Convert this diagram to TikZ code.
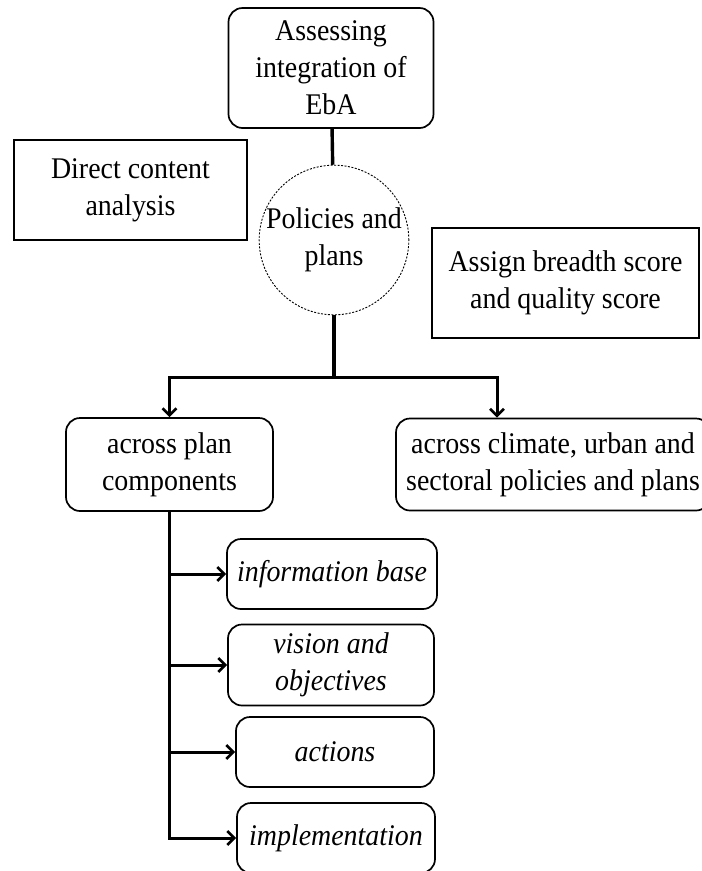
\documentclass[tikz,border=0pt]{standalone}
\usepackage{fontspec}
\setmainfont{Liberation Serif}[FakeStretch=0.93]
\usepackage{tikz}
\usetikzlibrary{arrows.meta}

\begin{document}
\begin{tikzpicture}[x=1pt, y=-1pt, font=\fontsize{30}{37}\selectfont,
    >={Straight Barb[length=7pt, width=14pt, line width=2.6pt]},
    roundbox/.style={draw, rectangle, rounded corners=14pt, line width=1.7pt, align=center, inner sep=0pt},
    plainbox/.style={draw, rectangle, line width=1.5pt, align=center, inner sep=0pt},
    link/.style={line width=3.4pt},
    arrow/.style={->, line width=3pt}]
            \useasboundingbox (0,0) rectangle (702,871);
            \clip (0,0) rectangle (702,871);

            \node[roundbox, minimum width=205, minimum height=120] (assess) at (331,68) {Assessing\\integration of\\EbA};

            \node[plainbox, minimum width=233, minimum height=100] (direct) at (130.5,190) {Direct content\\analysis};

            \node[draw, circle, dashed, line width=0.9pt, dash pattern=on 2pt off 1.5pt, minimum size=148, inner sep=0pt, align=center] (policies) at (334,240) {Policies and\\plans};

            \node[plainbox, minimum width=267, minimum height=110] (assign) at (565.5,283) {Assign breadth score\\and quality score};

            \node[roundbox, minimum width=207, minimum height=93] (plancomp) at (169.5,464.5) {across plan\\components};

            \node[roundbox, minimum width=314, minimum height=92] (sectoral) at (553,464.5) {across climate, urban and\\sectoral policies and plans};

            \node[roundbox, minimum width=210, minimum height=70] (info) at (332,574) {\itshape information base};
            \node[roundbox, minimum width=206, minimum height=81] (vision) at (331,665) {\itshape vision and\\\itshape objectives};
            \node[roundbox, minimum width=198, minimum height=70] (actions) at (335,752) {\itshape actions};
            \node[roundbox, minimum width=198, minimum height=70] (impl) at (336,838) {\itshape implementation};

            \coordinate (split) at (334,377);
            \coordinate (rightdrop) at (497,377);

            \draw[link] (assess) -- (policies);
            \draw[link] (policies) -- (split);
            \draw[arrow] (split) -| (plancomp.north);
            \draw[arrow] (split) -- (rightdrop) -- (rightdrop |- sectoral.north);

            \draw[arrow] (plancomp.south) |- (impl.west);
            \foreach \comp in {info, vision, actions}
                \draw[arrow] (plancomp.south |- \comp.west) -- (\comp.west);
        \end{tikzpicture}
\end{document}
